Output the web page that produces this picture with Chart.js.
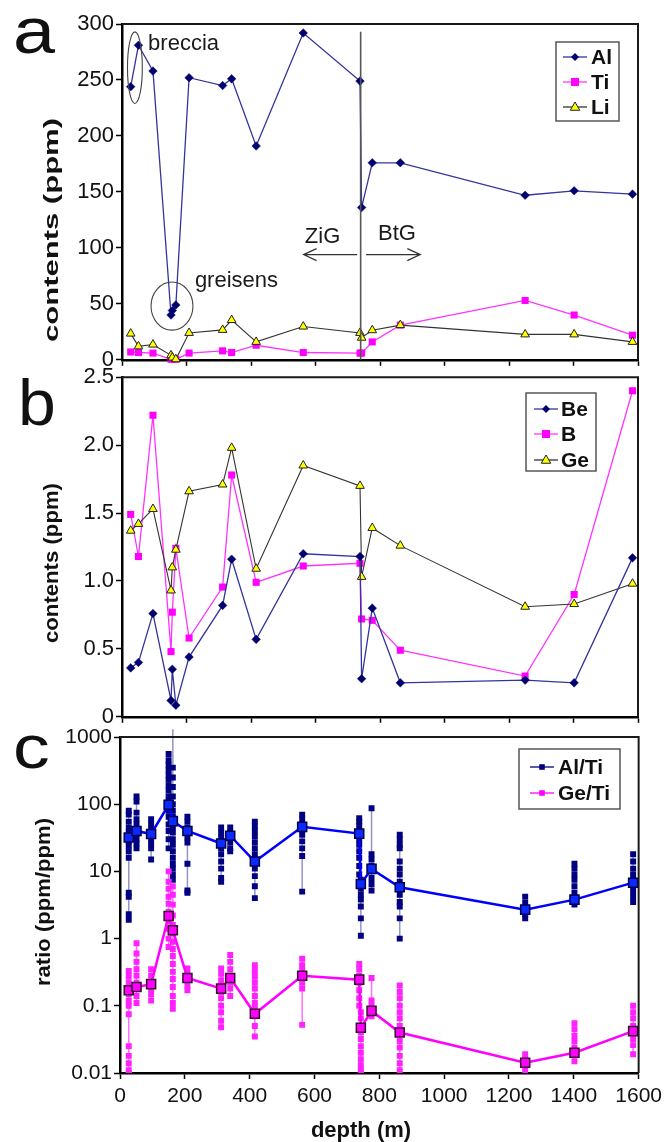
<!DOCTYPE html>
<html><head><meta charset="utf-8">
<script src="https://cdn.jsdelivr.net/npm/chart.js@4.4.1/dist/chart.umd.min.js"></script>
<style>
html,body{margin:0;padding:0;background:#fff;}
#wrap{position:relative;width:667px;height:1142px;overflow:hidden;background:#fff;}
canvas{position:absolute;left:0;}
</style></head><body>
<div id="wrap">
<canvas id="ca" width="667" height="375" style="top:0px"></canvas>
<canvas id="cb" width="667" height="370" style="top:362px"></canvas>
<canvas id="cc" width="667" height="420" style="top:722px"></canvas>
</div>
<script>
// ---------- data ----------
const X_TICKS = [0,200,400,600,800,1000,1200,1400,1600];
const X_LABELS = ['0','200','400','600','800','1000','1200','1400','1600'];
const Y_TICKS_A = [0,50,100,150,200,250,300];
const Y_LABELS_A = ['0','50','100','150','200','250','300'];
const Y_TICKS_B = [0,0.5,1,1.5,2,2.5];
const Y_LABELS_B = ['0','0.5','1.0','1.5','2.0','2.5'];
const Y_TICKS_C = [0.01,0.1,1,10,100,1000];
const Y_LABELS_C = ['0.01','0.1','1','10','100','1000'];

// panels a and b: sample depths (m)
const depth = [27, 51, 96, 152, 156, 167, 208, 312, 340, 416, 562, 738, 743, 776, 863, 1250, 1402, 1583];
const al = [244, 281, 258, 40, 44, 49, 252, 245, 251, 191, 292, 249, 136, 176, 176, 147, 151, 148];
const ti = [7, 6.5, 6, 0.5, 0.5, 0.5, 6, 8, 6.5, 13, 6.5, 6, 6, 16, 31, 53, 40, 22];
const li = [23.4, 12, 13.6, 4, 2, 0.5, 24, 26.7, 35.5, 16, 29.7, 24, 19.7, 26.4, 31, 22.7, 22.7, 16];
const be = [0.36, 0.40, 0.76, 0.12, 0.35, 0.085, 0.44, 0.82, 1.16, 0.57, 1.20, 1.18, 0.28, 0.80, 0.25, 0.27, 0.25, 1.17];
const bor = [1.49, 1.18, 2.22, 0.48, 0.77, 1.24, 0.58, 0.955, 1.78, 0.99, 1.11, 1.13, 0.72, 0.71, 0.49, 0.30, 0.90, 2.40];
const ge = [1.37, 1.42, 1.53, 0.93, 1.10, 1.23, 1.66, 1.71, 1.98, 1.09, 1.85, 1.70, 1.03, 1.39, 1.26, 0.81, 0.83, 0.98];

// panel c: mean ratios per depth
const depthC = [27, 51, 96, 150, 163, 208, 312, 340, 416, 562, 738, 743, 776, 863, 1250, 1402, 1583];
const alTiMean = [32, 40, 36, 98, 56, 40, 26, 34, 14, 46, 36.5, 6.5, 10.9, 5.8, 2.7, 3.8, 6.8];
const geTiMean = [0.17, 0.19, 0.21, 2.17, 1.33, 0.26, 0.18, 0.26, 0.076, 0.28, 0.245, 0.047, 0.084, 0.040, 0.0142, 0.020, 0.042];
// panel c: individual samples per depth
const alTiSamples = [
  [80, 70, 55, 45, 38, 32, 28, 24, 20, 16, 4.8, 4.2, 2.3, 1.9],
  [130, 110, 75, 60, 50, 42, 36, 30, 26, 22],
  [60, 50, 42, 36, 30, 26, 22, 15],
  [560, 450, 380, 320, 270, 230, 190, 160, 130, 110, 95, 80, 65, 50, 40, 30, 22],
  [350, 250, 180, 130, 100, 80, 65, 55, 45, 38, 30, 25, 20, 16, 13, 11, 9, 7.5],
  [65, 55, 45, 38, 32, 27, 13, 5.2, 4.8],
  [45, 38, 32, 27, 22, 18, 14, 11, 8, 7],
  [45, 38, 32, 27, 22, 20],
  [55, 47, 40, 33, 27, 22, 18, 14, 11, 8.5, 6, 4],
  [70, 60, 50, 42, 35, 28, 22, 17, 5],
  [62, 55, 48, 40, 35, 30, 25, 20, 16, 12, 9],
  [7.5, 6.5, 5.5, 4.5, 3.8, 3, 2, 1.1],
  [87, 18, 15, 12, 10, 8, 6.5, 5.2],
  [35, 30, 25, 22, 14, 11, 9, 7, 5.5, 4.5, 3.5, 3, 2, 1],
  [4.2, 3.4, 2.8, 2.3, 2],
  [13, 11, 9, 7.5, 6, 4.8, 3.8, 3.2],
  [18, 14, 11, 9, 7.5, 6, 5, 4.2, 3.5]
];
const geTiSamples = [
  [0.33, 0.27, 0.22, 0.18, 0.15, 0.12, 0.1, 0.075, 0.025, 0.018, 0.014, 0.011, 0.01],
  [0.85, 0.6, 0.45, 0.35, 0.28, 0.22, 0.18, 0.14, 0.11],
  [0.35, 0.28, 0.22, 0.18, 0.15, 0.12],
  [10, 7, 5.5, 4.2, 3.3, 2.5, 1.8, 1.4, 1.0, 0.75],
  [6, 4.5, 3.2, 2.2, 1.6, 1.2, 0.9, 0.7, 0.55, 0.42, 0.32, 0.25, 0.19, 0.14, 0.11, 0.09],
  [0.36, 0.3, 0.24, 0.2, 0.17],
  [0.36, 0.3, 0.24, 0.2, 0.16, 0.13, 0.1, 0.08, 0.06, 0.048],
  [0.57, 0.45, 0.35, 0.28, 0.22, 0.18, 0.14],
  [0.4, 0.33, 0.27, 0.22, 0.18, 0.14, 0.11, 0.09, 0.07, 0.05, 0.035],
  [0.5, 0.4, 0.33, 0.27, 0.22, 0.18, 0.052],
  [0.42, 0.35, 0.28, 0.22, 0.17, 0.13, 0.1],
  [0.08, 0.065, 0.05, 0.04, 0.032, 0.025, 0.02, 0.016, 0.013, 0.011, 0.01],
  [0.26, 0.12, 0.1, 0.085, 0.07],
  [0.2, 0.16, 0.13, 0.1, 0.08, 0.065, 0.05, 0.04, 0.03, 0.024, 0.018, 0.014, 0.011],
  [0.019, 0.016, 0.013, 0.011],
  [0.055, 0.045, 0.036, 0.03, 0.024, 0.019, 0.015],
  [0.1, 0.08, 0.065, 0.05, 0.04, 0.032, 0.026, 0.019]
];
// panel c: range (error bar) extents
const alTiLo = [1.9, 22, 15, 22, 7.5, 4.8, 7, 20, 4, 5, 9, 1.1, 5.2, 1, 2, 3.2, 3.5];
const alTiHi = [80, 130, 60, 560, 1300, 65, 45, 45, 55, 70, 62, 7.5, 87, 35, 4.2, 13, 18];
const geTiLo = [0.01, 0.11, 0.12, 0.75, 0.09, 0.17, 0.048, 0.14, 0.035, 0.052, 0.1, 0.01, 0.07, 0.011, 0.01, 0.015, 0.019];
const geTiHi = [0.33, 0.85, 0.35, 10, 6, 0.36, 0.36, 0.57, 0.4, 0.5, 0.42, 0.08, 0.26, 0.2, 0.019, 0.055, 0.1];

// ---------- helpers ----------
const FONT = "'Liberation Sans', Arial, Helvetica, sans-serif";
const pts = (xs, ys) => xs.map((x, i) => ({x, y: ys[i]}));
const flat = (xs, cols) => { const o = []; xs.forEach((x, i) => cols[i].forEach(v => o.push({x, y: v}))); return o; };
const ranges = (xs, lo, hi) => { const o = []; xs.forEach((x, i) => { o.push({x, y: lo[i]}, {x, y: hi[i]}, {x, y: null}); }); return o; };

function xScale(h, showLabels) {
  return {
    type: 'linear', min: 0, max: 1600,
    afterBuildTicks: s => { s.ticks = X_TICKS.map(v => ({value: v})); },
    afterFit: s => { s.height = h; },
    ticks: {display: showLabels, autoSkip: false, maxRotation: 0, padding: 5, color: '#111',
      font: {family: FONT, size: 21}, callback: (v, i) => X_LABELS[i]},
    grid: {display: true, drawOnChartArea: false, drawTicks: true, tickLength: 6, tickColor: '#000', tickWidth: 1.5},
    border: {display: true, color: '#000', width: 2.5}
  };
}
function yScale(type, min, max, tks, lbls, w, size) {
  return {
    type, min, max,
    afterBuildTicks: s => { s.ticks = tks.map(v => ({value: v})); },
    afterFit: s => { s.width = w; },
    ticks: {autoSkip: false, padding: 2, color: '#111', font: {family: FONT, size}, callback: (v, i) => lbls[i]},
    grid: {display: true, drawOnChartArea: false, drawTicks: true, tickLength: 6, tickColor: '#000', tickWidth: 1.5},
    border: {display: true, color: '#000', width: 2.5}
  };
}
function baseOpts(x, y, padding) {
  return {
    responsive: false, animation: false, devicePixelRatio: 1, events: [],
    layout: {padding},
    plugins: {legend: {display: false}, tooltip: {enabled: false}},
    scales: {x, y}
  };
}

function drawMarker(ctx, style, x, y, r, fill, stroke, lw) {
  ctx.save();
  ctx.beginPath();
  if (style === 'diamond') { ctx.moveTo(x, y - r); ctx.lineTo(x + r, y); ctx.lineTo(x, y + r); ctx.lineTo(x - r, y); ctx.closePath(); }
  else if (style === 'square') { ctx.rect(x - r, y - r, 2 * r, 2 * r); }
  else if (style === 'triangle') { ctx.moveTo(x, y - r); ctx.lineTo(x + r * 0.95, y + r * 0.65); ctx.lineTo(x - r * 0.95, y + r * 0.65); ctx.closePath(); }
  ctx.fillStyle = fill; ctx.fill();
  if (stroke) { ctx.strokeStyle = stroke; ctx.lineWidth = lw || 1; ctx.stroke(); }
  ctx.restore();
}
function drawLegend(ctx, off, box, rows, font) {
  ctx.save();
  ctx.fillStyle = '#fff'; ctx.fillRect(box.x1, box.y1 - off, box.x2 - box.x1, box.y2 - box.y1);
  ctx.strokeStyle = '#555'; ctx.lineWidth = 1.5; ctx.strokeRect(box.x1, box.y1 - off, box.x2 - box.x1, box.y2 - box.y1);
  rows.forEach(r => {
    const y = r.y - off;
    ctx.strokeStyle = r.line; ctx.lineWidth = 1.3;
    ctx.beginPath(); ctx.moveTo(box.lx1, y); ctx.lineTo(box.lx2, y); ctx.stroke();
    drawMarker(ctx, r.style, (box.lx1 + box.lx2) / 2, y, r.r, r.fill, r.stroke, 1);
    ctx.fillStyle = '#111'; ctx.font = font; ctx.textAlign = 'left'; ctx.textBaseline = 'middle';
    ctx.fillText(r.text, box.tx, y + 1);
  });
  ctx.restore();
}
function drawStretched(ctx, text, cx, cy, font, target, rotate, align) {
  ctx.save(); ctx.font = font;
  const w = ctx.measureText(text).width;
  ctx.translate(cx, cy);
  if (rotate) ctx.rotate(-Math.PI / 2);
  ctx.scale(target / w, 1);
  ctx.fillStyle = '#111'; ctx.textAlign = align || 'center'; ctx.textBaseline = rotate ? 'middle' : 'alphabetic';
  ctx.fillText(text, 0, 0);
  ctx.restore();
}
function frame(chart) {
  const {ctx, chartArea: a} = chart;
  ctx.save(); ctx.strokeStyle = '#1a1a1a'; ctx.lineWidth = 2;
  ctx.beginPath(); ctx.moveTo(a.left, a.top); ctx.lineTo(a.right, a.top); ctx.lineTo(a.right, a.bottom); ctx.stroke();
  ctx.restore();
}
function arrow(ctx, x1, y, x2) {
  const d = Math.sign(x2 - x1);
  ctx.beginPath(); ctx.moveTo(x1, y); ctx.lineTo(x2, y);
  ctx.moveTo(x2 - d * 13, y - 6); ctx.lineTo(x2, y); ctx.lineTo(x2 - d * 13, y + 6);
  ctx.stroke();
}

// ---------- panel a ----------
const plugA = {
  id: 'panelA',
  afterDraw(chart) {
    const {ctx} = chart; const X = v => chart.scales.x.getPixelForValue(v); const Y = v => chart.scales.y.getPixelForValue(v);
    frame(chart);
    ctx.save();
    ctx.strokeStyle = '#555'; ctx.lineWidth = 1.6;
    ctx.beginPath(); ctx.moveTo(X(740), Y(293)); ctx.lineTo(X(740), Y(0)); ctx.stroke();
    ctx.strokeStyle = '#444'; ctx.lineWidth = 1.1;
    ctx.beginPath(); ctx.ellipse(X(40), Y(261), X(63) - X(40), Y(261) - Y(293), 0, 0, Math.PI * 2); ctx.stroke();
    ctx.beginPath(); ctx.ellipse(X(155), Y(48), X(220) - X(155), Y(48) - Y(69.5), 0, 0, Math.PI * 2); ctx.stroke();
    ctx.strokeStyle = '#333'; ctx.lineWidth = 1.2;
    arrow(ctx, X(729), Y(94), X(563));
    arrow(ctx, X(757), Y(94), X(925));
    ctx.fillStyle = '#1a1a1a'; ctx.font = '22px ' + FONT; ctx.textAlign = 'left'; ctx.textBaseline = 'alphabetic';
    ctx.fillText('breccia', X(81), Y(277));
    ctx.fillText('greisens', X(226), Y(65));
    ctx.fillText('ZiG', X(567), Y(104.5));
    ctx.fillText('BtG', X(794), Y(107));
    ctx.restore();
    drawLegend(ctx, 0, {x1: 556, y1: 42, x2: 619, y2: 121, lx1: 563, lx2: 587, tx: 591}, [
      {y: 57, text: 'Al', style: 'diamond', r: 4, fill: '#00006e', line: '#34349a'},
      {y: 82, text: 'Ti', style: 'square', r: 4, fill: '#ff00ff', line: '#ff33ff'},
      {y: 107, text: 'Li', style: 'triangle', r: 5, fill: '#ffff00', stroke: '#222', line: '#333'}
    ], 'bold 21px ' + FONT);
    drawStretched(ctx, 'a', 13, 53, '64px ' + FONT, 37 / 0.88, false, 'left');
    drawStretched(ctx, 'contents (ppm)', 52, 230, 'bold 21px ' + FONT, 224, true);
  }
};
new Chart(document.getElementById('ca'), {
  type: 'line',
  data: {datasets: [
    {label: 'Al', data: pts(depth, al), borderColor: '#34349a', borderWidth: 1.3, pointStyle: 'rectRot', pointRadius: 4.3,
      pointBackgroundColor: '#00006e', pointBorderColor: '#00006e', pointBorderWidth: 0.5, order: 0, clip: false},
    {label: 'Li', data: pts(depth, li), borderColor: '#333', borderWidth: 1.1, pointStyle: 'triangle', pointRadius: 5,
      pointBackgroundColor: '#ffff00', pointBorderColor: '#222', pointBorderWidth: 1, order: 1, clip: false},
    {label: 'Ti', data: pts(depth, ti), borderColor: '#ff33ff', borderWidth: 1.3, pointStyle: 'rect', pointRadius: 5,
      pointBackgroundColor: '#ff00ff', pointBorderColor: '#ff00ff', pointBorderWidth: 0, order: 2, clip: false}
  ]},
  options: baseOpts(xScale(15, false), yScale('linear', 0, 300, Y_TICKS_A, Y_LABELS_A, 122, 22), {top: 24, right: 29, left: 0, bottom: 0}),
  plugins: [plugA]
});

// ---------- panel b ----------
const OFF_B = 362;
const plugB = {
  id: 'panelB',
  afterDraw(chart) {
    const {ctx} = chart;
    frame(chart);
    drawLegend(ctx, OFF_B, {x1: 526, y1: 393, x2: 596, y2: 471, lx1: 534, lx2: 558, tx: 561}, [
      {y: 409, text: 'Be', style: 'diamond', r: 4, fill: '#00006e', line: '#34349a'},
      {y: 434, text: 'B', style: 'square', r: 4, fill: '#ff00ff', line: '#ff33ff'},
      {y: 460, text: 'Ge', style: 'triangle', r: 5, fill: '#ffff00', stroke: '#222', line: '#333'}
    ], 'bold 21px ' + FONT);
    drawStretched(ctx, 'b', 18, 425 - OFF_B, '64px ' + FONT, 34 / 0.9, false, 'left');
    drawStretched(ctx, 'contents (ppm)', 52, 563 - OFF_B, 'bold 21px ' + FONT, 160, true);
  }
};
new Chart(document.getElementById('cb'), {
  type: 'line',
  data: {datasets: [
    {label: 'Be', data: pts(depth, be), borderColor: '#34349a', borderWidth: 1.3, pointStyle: 'rectRot', pointRadius: 4.3,
      pointBackgroundColor: '#00006e', pointBorderColor: '#00006e', pointBorderWidth: 0.5, order: 0, clip: false},
    {label: 'Ge', data: pts(depth, ge), borderColor: '#333', borderWidth: 1.1, pointStyle: 'triangle', pointRadius: 5,
      pointBackgroundColor: '#ffff00', pointBorderColor: '#222', pointBorderWidth: 1, order: 1, clip: false},
    {label: 'B', data: pts(depth, bor), borderColor: '#ff33ff', borderWidth: 1.3, pointStyle: 'rect', pointRadius: 5,
      pointBackgroundColor: '#ff00ff', pointBorderColor: '#ff00ff', pointBorderWidth: 0, order: 2, clip: false}
  ]},
  options: baseOpts(xScale(13, false), yScale('linear', 0, 2.5, Y_TICKS_B, Y_LABELS_B, 122, 22), {top: 15, right: 29, left: 0, bottom: 0}),
  plugins: [plugB]
});

// ---------- panel c ----------
const OFF_C = 722;
const plugC = {
  id: 'panelC',
  afterDraw(chart) {
    const {ctx} = chart;
    frame(chart);
    drawLegend(ctx, OFF_C, {x1: 519, y1: 749, x2: 620, y2: 809, lx1: 530, lx2: 554, tx: 558}, [
      {y: 767, text: 'Al/Ti', style: 'square', r: 2.8, fill: '#000080', line: '#000080'},
      {y: 793, text: 'Ge/Ti', style: 'square', r: 2.8, fill: '#ff00ff', line: '#ff00ff'}
    ], 'bold 21px ' + FONT);
    drawStretched(ctx, 'c', 13, 768 - OFF_C, '62px ' + FONT, 33 / 0.9, false, 'left');
    drawStretched(ctx, 'ratio (ppm/ppm)', 44, 902 - OFF_C, 'bold 21px ' + FONT, 168, true);
    ctx.save(); ctx.font = 'bold 22px ' + FONT; ctx.fillStyle = '#111'; ctx.textAlign = 'center'; ctx.textBaseline = 'alphabetic';
    ctx.fillText('depth (m)', 361, 1137 - OFF_C); ctx.restore();
  }
};
new Chart(document.getElementById('cc'), {
  type: 'line',
  data: {datasets: [
    {label: 'Ge/Ti', data: pts(depthC, geTiMean), borderColor: '#ff00ff', borderWidth: 2.5, pointStyle: 'rect', pointRadius: 6.4,
      pointBackgroundColor: '#ff00ff', pointBorderColor: '#3a1030', pointBorderWidth: 1.5, order: 0},
    {label: 'Al/Ti', data: pts(depthC, alTiMean), borderColor: '#0000ff', borderWidth: 2.5, pointStyle: 'rect', pointRadius: 6.4,
      pointBackgroundColor: '#0a2aff', pointBorderColor: '#000050', pointBorderWidth: 1.5, order: 1},
    {label: 'Ge/Ti samples', data: flat(depthC, geTiSamples), showLine: false, pointStyle: 'rect', pointRadius: 4.2,
      pointBackgroundColor: '#ff22ff', pointBorderWidth: 0, order: 2},
    {label: 'Al/Ti samples', data: flat(depthC, alTiSamples), showLine: false, pointStyle: 'rect', pointRadius: 4.2,
      pointBackgroundColor: '#000080', pointBorderWidth: 0, order: 3},
    {label: 'Ge/Ti range', data: ranges(depthC, geTiLo, geTiHi), borderColor: 'rgba(255,60,255,0.75)', borderWidth: 1.5,
      pointRadius: 0, spanGaps: false, order: 4},
    {label: 'Al/Ti range', data: ranges(depthC, alTiLo, alTiHi), borderColor: 'rgba(60,60,150,0.55)', borderWidth: 1.5,
      pointRadius: 0, spanGaps: false, order: 5, clip: false}
  ]},
  options: baseOpts(xScale(69, true), yScale('logarithmic', 0.01, 1000, Y_TICKS_C, Y_LABELS_C, 120, 21), {top: 15, right: 27, left: 0, bottom: 0}),
  plugins: [plugC]
});
</script>
</body></html>
